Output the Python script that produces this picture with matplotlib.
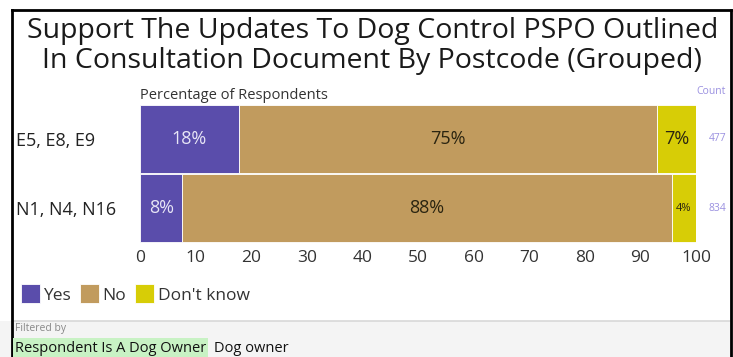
import numpy as np
import matplotlib.pyplot as plt
from matplotlib.patches import Rectangle

plt.rcParams['font.family'] = ['Open Sans', 'DejaVu Sans']

groups = ['E5, E8, E9', 'N1, N4, N16']
yes = [17.8, 7.6]
no = [75.2, 88.1]
dont_know = [7.0, 4.3]
counts = [477, 834]
series_names = ['Yes', 'No', "Don't know"]
colors = ['#5a4dab', '#c19b5e', '#d7cd06']
text_colors = ['#e8e6f6', '#2a2410', '#2a2410']

fig = plt.figure(figsize=(7.33, 3.57), dpi=100)
W, H = 733, 357

# outer frame and grey footer
fig.patches.append(Rectangle((0, 0), 1, 1 - 321 / H, transform=fig.transFigure,
                             facecolor='#f4f4f4', edgecolor='none', zorder=0))
fig.add_artist(plt.Line2D([12 / W, 730 / W], [1 - 321 / H] * 2, color='#d8d8d8', lw=1.2))
fig.add_artist(plt.Line2D([12 / W, 12 / W], [0, 1 - 10 / H], color='black', lw=2))
fig.add_artist(plt.Line2D([731 / W, 731 / W], [0, 1 - 10 / H], color='black', lw=2))
fig.add_artist(plt.Line2D([12 / W, 731 / W], [1 - 10 / H] * 2, color='black', lw=2))

fig.text(0.508, 1 - 46 / H, 'Support The Updates To Dog Control PSPO Outlined\n'
         'In Consultation Document By Postcode (Grouped)',
         ha='center', va='center', fontsize=20.5, color='#1a1a1a', linespacing=1.1)

ax = fig.add_axes([140 / W, 1 - 243 / H, 556 / W, 139 / H])
y = np.arange(len(groups))
left = np.zeros(len(groups))
for vals, name, c, tc in zip([yes, no, dont_know], series_names, colors, text_colors):
    bars = ax.barh(y, vals, left=left, height=0.985, color=c, edgecolor='white',
                   linewidth=0.6, label=name)
    for b, v in zip(bars, vals):
        fs = 13 if v > 5 else 8
        ax.text(b.get_x() + b.get_width() / 2, b.get_y() + b.get_height() / 2,
                f'{round(v):.0f}%', ha='center', va='center', fontsize=fs, color=tc)
    left += np.array(vals)

ax.set_xlim(0, 100)
ax.set_ylim(len(groups) - 0.5, -0.5)
ax.set_yticks(y)
ax.set_yticklabels(groups, fontsize=13, color='#222222')
for lab in ax.get_yticklabels():
    lab.set_ha('left')
ax.set_xticks(np.arange(0, 101, 10))
ax.tick_params(axis='x', labelsize=12.5, colors='#333333', length=0, pad=5)
ax.tick_params(axis='y', length=0, pad=(140 - 16) * 0.72)
for s in ax.spines.values():
    s.set_visible(False)

ax.text(0, 1.005, 'Percentage of Respondents', transform=ax.transAxes,
        fontsize=10.5, color='#333333', ha='left', va='bottom')
fig.text(696 / W, 1 - 92 / H, 'Count', fontsize=7.5, color='#9a90e0', ha='left', va='center')
for yi, n in zip(y, counts):
    ax.text(1.038, yi, str(n), transform=ax.get_yaxis_transform(), fontsize=7.5,
            color='#9a90e0', ha='center', va='center')

leg = fig.legend(loc='center left', bbox_to_anchor=(14 / W, 1 - 294 / H), ncol=3,
                 frameon=False, fontsize=12.5, handlelength=1.1, handleheight=1.3,
                 handletextpad=0.2, columnspacing=0.5, borderaxespad=0)
for t in leg.get_texts():
    t.set_color('#333333')

fig.text(15 / W, 1 - 329 / H, 'Filtered by', fontsize=7.5, color='#888888', va='center')
t1 = fig.text(15 / W, 1 - 348 / H, 'Respondent Is A Dog Owner', fontsize=10.5,
              color='#111111', va='center',
              bbox=dict(facecolor='#c8f2c4', edgecolor='none', pad=1.5))
fig.text(214 / W, 1 - 348 / H, 'Dog owner', fontsize=10.5, color='#111111', va='center')

fig.savefig('out.png', dpi=100, facecolor='white')
